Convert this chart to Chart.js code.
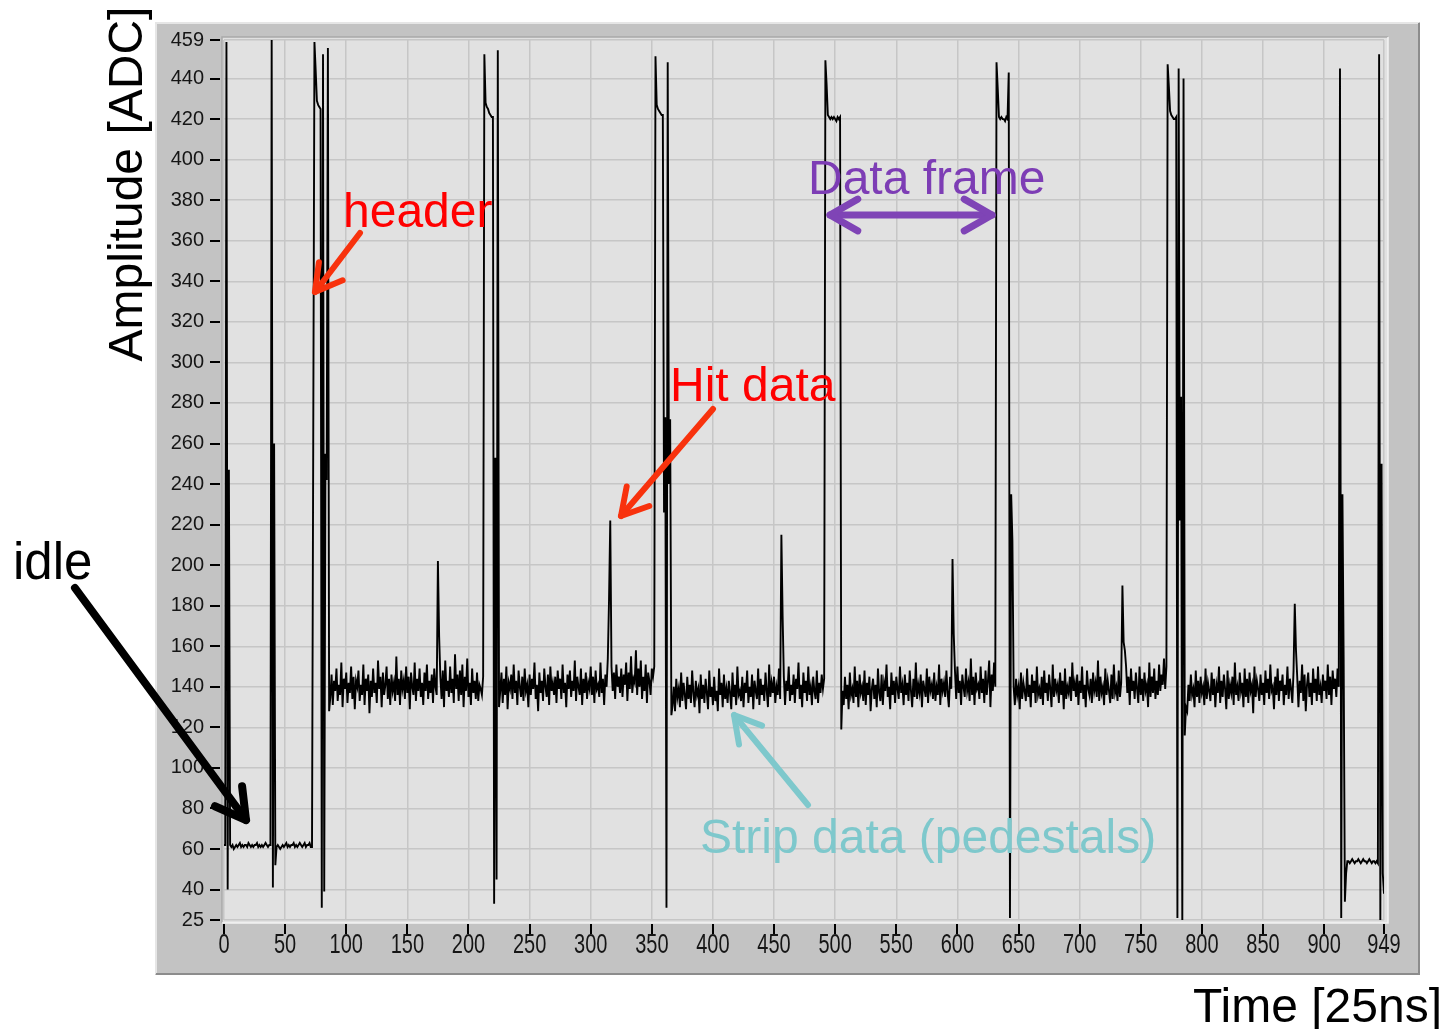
<!DOCTYPE html>
<html>
<head>
<meta charset="utf-8">
<title>APV25 raw frame</title>
<script src="https://cdn.jsdelivr.net/npm/chart.js@4.4.0/dist/chart.umd.min.js"></script>
<style>
  html, body { margin: 0; padding: 0; background: #fff; overflow: hidden; }
  canvas { display: block; }
</style>
</head>
<body>
<canvas id="scope" width="1443" height="1029"></canvas>
<script>
// tick labels
const xTicks = [0, 50, 100, 150, 200, 250, 300, 350, 400, 450, 500, 550, 600, 650, 700, 750, 800, 850, 900, 949];
const yTicks = [25, 40, 60, 80, 100, 120, 140, 160, 180, 200, 220, 240, 260, 280, 300, 320, 340, 360, 380, 400, 420, 440, 459];

// samples (index 0..949)
const idleHead = [62, 62];
const burst0 = [458, 40, 247, 62];
const idle1 = [61,62,60,61,62, 61,62,63,61,62, 61,62,62,61,63, 62,61,62,61,62, 62,63,61,62,61, 62,61,62,63,62, 61,62,62];
const burst1 = [459, 41, 260, 52];
const idle2 = [61,62,61,60,61, 62,61,62,63,61, 62,61,62,62,63, 61,62,61,62,63, 62,61,62,63,61, 62,62,63,61,61];
const header1 = [260, 458, 444, 429, 427, 426, 425, 31, 452, 39, 255, 242, 455, 128];
const frame1 = [
  135,146,131,143,138,149,133,141,136,152,130,144,139,147,132,142,137,150,134,145,129,143,140,148,133,
  141,136,151,131,144,138,146,127,143,135,149,137,142,132,153,139,145,130,147,136,141,150,134,144,131,
  146,138,142,133,155,136,144,131,148,139,143,134,150,137,145,129,147,140,136,152,133,144,138,149,135,
  142,131,147,138,151,134,143,137,146,132,149,140,136,202,165,145,134,148,130,153,138,143,135,150,137,
  144,132,156,139,146,133,148,136,151,130,145,138,154,135,142,131,149,137,143,134,147,133,141,139,136
];
const header2 = [145, 452, 428, 426, 425, 423, 422, 421, 421, 33, 253, 45, 454, 130];
const frame2 = [
  138,147,132,144,136,150,129,142,139,146,134,151,137,143,131,148,140,135,145,133,149,138,141,130,146,
  136,144,139,152,134,141,128,147,137,143,133,149,140,135,146,131,150,138,142,136,145,132,148,139,144,
  134,151,137,142,130,146,139,148,135,143,138,153,133,145,140,136,149,131,144,137,147,134,142,139,150,
  136,145,132,148,139,141,135,152,137,144,131,146,140,154,183,222,150,138,147,134,151,140,145,137,149,
  135,146,141,152,133,147,139,155,137,144,142,158,136,149,140,153,134,145,138,151,132,147,143,136,149,145
];
const header3 = [150, 451, 427, 425, 424, 423, 422, 422, 226, 273, 31, 448, 240, 272, 126];
const frame3 = [
  131,140,128,144,135,139,130,147,133,142,136,129,145,134,141,132,148,137,130,143,136,139,127,146,134,
  141,132,144,137,129,148,135,140,131,145,133,138,128,149,136,142,130,146,134,139,132,143,137,129,147,
  135,141,131,150,136,138,133,145,130,142,137,148,132,140,135,146,129,143,138,134,149,131,144,136,141,
  133,147,138,130,151,135,142,137,145,132,140,136,149,134,215,175,145,131,143,138,150,133,141,136,146,
  132,144,139,152,134,141,130,147,137,143,133,150,136,140,131,145,138,134,148,132,142,137,146,139,144
];
const header4 = [449, 437, 422, 421, 420, 421, 420, 421, 420, 419, 421, 420, 421, 119];
const frame4 = [
  138,131,145,134,141,129,147,136,139,132,150,135,143,130,146,137,140,133,148,131,142,136,145,128,139,
  144,134,141,130,149,137,133,146,131,142,138,151,135,140,129,147,136,143,132,145,139,134,150,137,141,
  131,146,136,142,133,148,138,130,144,135,152,134,141,137,146,130,143,139,135,149,132,145,138,141,134,
  147,133,140,136,151,131,144,138,142,135,148,137,130,145,139,203,166,148,134,150,137,143,131,146,140,
  135,149,138,142,133,154,136,145,131,147,139,141,134,150,137,144,132,148,136,143,153,130,146,138,152,140
];
const header5 = [448, 435, 421, 420, 421, 420, 420, 419, 421, 420, 443, 26, 235, 212, 140];
const frame5 = [
  131,144,136,140,129,147,134,142,138,133,149,135,141,130,146,137,143,132,150,136,139,134,145,131,148,
  137,142,133,146,139,130,151,135,144,138,141,132,147,136,143,129,149,134,140,137,145,133,152,138,142,
  135,146,131,143,137,150,134,141,130,148,139,136,144,132,147,138,142,135,153,133,145,137,140,131,149,
  136,143,138,132,146,134,151,137,140,133,148,135,142,190,162,158,150,137,145,131,149,138,143,134,147,
  139,132,150,136,144,133,147,138,141,130,152,135,145,137,149,134,143,136,151,138,146,141,154,139,150
];
const header6 = [447, 436, 424, 422, 421, 420, 420, 421, 26, 445, 222, 283, 24, 440, 116, 130];
const frame6 = [
  128,141,133,146,136,139,130,148,135,143,132,145,137,140,131,149,134,142,138,133,147,136,144,130,141,
  137,150,132,143,135,146,139,129,148,134,141,137,145,131,152,136,140,133,147,138,142,130,149,135,144,
  132,147,138,141,127,150,135,143,139,133,146,136,142,131,148,137,144,134,151,138,140,129,145,136,149,
  133,143,138,146,131,141,136,150,134,144,139,132,148,181,158,145,130,143,137,151,133,146,128,141,147,
  135,142,131,149,137,144,133,150,136,140,132,146,138,143,134,151,136,145,131,148,139,144,135,149
];
const tail1 = [140, 445, 26, 235, 153, 34, 48, 54];
const idle3 = [54,53,54,55,54, 53,54,54,55,54, 53,54,55,54,54, 53,54,55,54,53, 54,54,53,54,53];
const tail2 = [452, 24, 250, 48, 38];

const amplitude = [].concat(idleHead, burst0, idle1, burst1, idle2, header1, frame1, header2, frame2,
  header3, frame3, header4, frame4, header5, frame5, header6, frame6, tail1, idle3, tail2);
const points = amplitude.map((v, i) => ({ x: i, y: v }));

const FONT = '"Liberation Sans", Arial, sans-serif';

function arrow(ctx, x1, y1, x2, y2, color, w, len, both) {
  ctx.save();
  ctx.strokeStyle = color;
  ctx.lineWidth = w;
  ctx.lineCap = 'round';
  ctx.lineJoin = 'round';
  ctx.beginPath();
  ctx.moveTo(x1, y1);
  ctx.lineTo(x2, y2);
  ctx.stroke();
  const head = (tx, ty, fx, fy) => {
    const a = Math.atan2(ty - fy, tx - fx);
    ctx.beginPath();
    ctx.moveTo(tx - len * Math.cos(a - 0.52), ty - len * Math.sin(a - 0.52));
    ctx.lineTo(tx, ty);
    ctx.lineTo(tx - len * Math.cos(a + 0.52), ty - len * Math.sin(a + 0.52));
    ctx.stroke();
  };
  head(x2, y2, x1, y1);
  if (both) head(x1, y1, x2, y2);
  ctx.restore();
}

const panelPlugin = {
  id: 'panel',
  beforeDraw(chart) {
    const ctx = chart.ctx;
    const a = chart.chartArea;
    ctx.save();
    // outer grey frame
    ctx.fillStyle = '#c3c3c3';
    ctx.fillRect(155, 22, 1265, 953);
    ctx.strokeStyle = '#e6e6e6';
    ctx.lineWidth = 2;
    ctx.beginPath();
    ctx.moveTo(156, 974); ctx.lineTo(156, 23); ctx.lineTo(1419, 23);
    ctx.stroke();
    ctx.strokeStyle = '#8c8c8c';
    ctx.beginPath();
    ctx.moveTo(1419, 23); ctx.lineTo(1419, 974); ctx.lineTo(156, 974);
    ctx.stroke();
    // plot area
    ctx.fillStyle = '#e1e1e1';
    ctx.fillRect(a.left - 2, a.top - 3, a.right - a.left + 6, a.bottom - a.top + 6);
    ctx.strokeStyle = '#a9a9a9';
    ctx.lineWidth = 1.5;
    ctx.beginPath();
    ctx.moveTo(a.left - 2, a.bottom + 3); ctx.lineTo(a.left - 2, a.top - 3); ctx.lineTo(a.right + 4, a.top - 3);
    ctx.stroke();
    ctx.strokeStyle = '#f4f4f4';
    ctx.beginPath();
    ctx.moveTo(a.right + 4, a.top - 3); ctx.lineTo(a.right + 4, a.bottom + 3); ctx.lineTo(a.left - 2, a.bottom + 3);
    ctx.stroke();
    ctx.restore();
  },
  afterDraw(chart) {
    const ctx = chart.ctx;
    const xs = chart.scales.x, ys = chart.scales.y;
    ctx.save();
    // tick marks
    ctx.strokeStyle = '#000';
    ctx.lineWidth = 2;
    yTicks.forEach(v => {
      const py = Math.round(ys.getPixelForValue(v));
      ctx.beginPath(); ctx.moveTo(210, py); ctx.lineTo(220, py); ctx.stroke();
    });
    xTicks.forEach(v => {
      const px = Math.round(xs.getPixelForValue(v));
      ctx.beginPath(); ctx.moveTo(px, 924); ctx.lineTo(px, 934); ctx.stroke();
    });
    // x tick labels (tall, narrow look of the original)
    ctx.fillStyle = '#151515';
    ctx.font = '20px ' + FONT;
    ctx.textAlign = 'center';
    ctx.textBaseline = 'middle';
    xTicks.forEach(v => {
      ctx.save();
      ctx.translate(xs.getPixelForValue(v), 945);
      ctx.scale(1, 1.4);
      ctx.fillText(String(v), 0, 0);
      ctx.restore();
    });

    // axis titles
    ctx.fillStyle = '#000';
    ctx.font = '48px ' + FONT;
    ctx.textBaseline = 'alphabetic';
    ctx.save();
    ctx.translate(142, 184);
    ctx.rotate(-Math.PI / 2);
    ctx.textAlign = 'center';
    ctx.fillText('Amplitude [ADC]', 0, 0);
    ctx.restore();
    ctx.textAlign = 'left';
    ctx.fillText('Time [25ns]', 1193, 1022);

    // annotations
    ctx.fillStyle = '#ff0000';
    ctx.fillText('header', 343, 227);
    ctx.fillText('Hit data', 670, 401);
    arrow(ctx, 360, 233, 315, 292, '#f8320d', 6, 30, false);
    arrow(ctx, 713, 409, 621, 516, '#f8320d', 6, 30, false);

    ctx.fillStyle = '#7d3db5';
    ctx.fillText('Data frame', 808, 194);
    arrow(ctx, 830, 215, 992, 215, '#7f44b6', 7, 32, true);

    ctx.fillStyle = '#7ec8cc';
    ctx.fillText('Strip data (pedestals)', 700, 853);
    arrow(ctx, 808, 805, 734, 715, '#7ec8cc', 6, 30, false);

    ctx.fillStyle = '#000';
    ctx.font = '51px ' + FONT;
    ctx.fillText('idle', 13, 579);
    arrow(ctx, 75, 588, 246, 820, '#000', 8, 34, false);
    ctx.restore();
  }
};

new Chart(document.getElementById('scope'), {
  type: 'line',
  data: {
    datasets: [{
      data: points,
      borderColor: '#000',
      borderWidth: 1.9,
      pointRadius: 0,
      tension: 0,
      fill: false
    }]
  },
  options: {
    responsive: false,
    animation: false,
    events: [],
    layout: { padding: { left: 0, right: 59, top: 40, bottom: 0 } },
    plugins: { legend: { display: false }, tooltip: { enabled: false } },
    scales: {
      x: {
        type: 'linear',
        min: 0,
        max: 949,
        afterBuildTicks: s => { s.ticks = xTicks.map(v => ({ value: v })); },
        afterFit: s => { s.height = 109; },
        grid: { color: '#c6c6c6', lineWidth: 1.5, drawTicks: false },
        border: { display: false },
        ticks: { display: false }
      },
      y: {
        min: 25,
        max: 459,
        afterBuildTicks: s => { s.ticks = yTicks.map(v => ({ value: v })); },
        afterFit: s => { s.width = 224; },
        grid: { color: '#c6c6c6', lineWidth: 1.5, drawTicks: true, tickLength: 13, tickColor: 'rgba(0,0,0,0)' },
        border: { display: false },
        ticks: { color: '#151515', padding: 7, font: { family: FONT, size: 20 } }
      }
    }
  },
  plugins: [panelPlugin]
});
</script>
</body>
</html>
